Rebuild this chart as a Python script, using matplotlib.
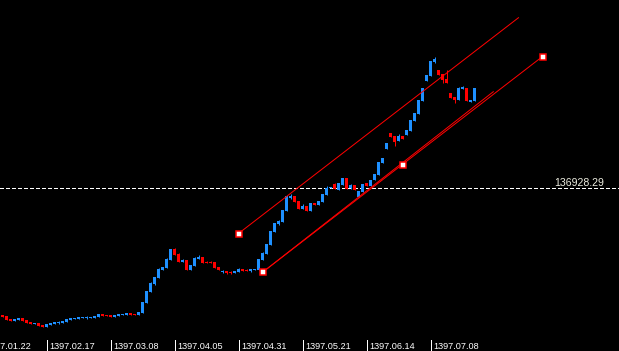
import matplotlib
matplotlib.use('Agg')
import matplotlib.pyplot as plt
from matplotlib.transforms import blended_transform_factory, offset_copy

# ---------------- data ----------------
opens = [98680, 98380, 97480, 96880, 97180, 97780, 97180, 96580, 95980, 96280,
         95680, 95080, 95680, 95980, 96280, 96280, 96580, 97180, 97480, 97480,
         97780, 97780, 97780, 97780, 98080, 98980, 98680, 98680, 98080, 98380,
         98680, 98680, 99280, 99070, 98680, 99280, 102370, 105670, 108070, 109870,
         112270, 112870, 115270, 118480, 116980, 114670, 115180, 112270, 113470, 115570,
         116080, 114670, 114670, 114580, 113080, 111580, 111790, 111670, 111370, 111670,
         112480, 112270, 111970, 112270, 112180, 115180, 116980, 119680, 123580, 126070,
         126580, 129880, 133870, 134380, 132880, 130480, 131380, 129880, 132280, 131680,
         132580, 134680, 136780, 137980, 136180, 137680, 139690, 136690, 137680, 134170,
         135670, 138190, 137380, 139180, 140680, 144280, 148480, 153280, 152380, 150880,
         152380, 152680, 153880, 156880, 158980, 162880, 168880, 170380, 174580, 172180,
         170980, 169480, 165280, 164080, 163180, 166480, 166780, 162580, 162880]
highs = [98680, 98380, 97480, 97480, 97780, 97780, 97180, 96580, 96280, 96280,
         95680, 95980, 96280, 96580, 97030, 96880, 97480, 97780, 97930, 98080,
         98080, 98530, 98230, 98530, 98980, 98980, 98680, 98680, 98680, 98980,
         99130, 99280, 99280, 99070, 99580, 102580, 105970, 108670, 110170, 112780,
         113080, 115780, 118480, 118780, 117280, 115480, 115180, 113680, 116080, 116680,
         116080, 114880, 114880, 114580, 113080, 112270, 111790, 111970, 111970, 112780,
         112480, 112480, 112480, 112480, 115480, 117670, 119980, 123880, 126370, 127180,
         130180, 134470, 134980, 134380, 132880, 132070, 131380, 132280, 132280, 132880,
         134980, 137380, 137080, 138280, 138370, 139690, 139690, 137980, 137680, 135880,
         137980, 138190, 139180, 140980, 144580, 145780, 150280, 153280, 152380, 152980,
         152380, 154180, 157180, 159280, 163180, 166780, 170680, 174880, 176080, 172180,
         170980, 172180, 165280, 164080, 167080, 167380, 166780, 163180, 166780]
lows = [98080, 97180, 96880, 96880, 97180, 96880, 96280, 95980, 95980, 95380,
        95080, 95080, 95680, 95980, 96130, 96280, 96580, 97180, 97480, 97480,
        97780, 97630, 97780, 97780, 98080, 98380, 98380, 98080, 98080, 98380,
        98680, 98680, 98680, 98680, 98680, 99280, 102370, 105670, 107770, 109870,
        112270, 112870, 115270, 116770, 114670, 114670, 112270, 112270, 113470, 115570,
        114370, 114370, 114370, 112870, 112270, 111370, 111070, 111070, 111370, 111670,
        111970, 111970, 111670, 112270, 112180, 115180, 116980, 119680, 123580, 125770,
        126580, 129880, 133480, 132580, 130480, 130480, 129880, 129880, 131680, 131680,
        132580, 134680, 136780, 136390, 136180, 137680, 136390, 136480, 136180, 134170,
        135670, 137470, 137380, 139180, 140680, 144280, 148480, 152080, 149380, 150880,
        151480, 152680, 153880, 156880, 158980, 162880, 168880, 170380, 174280, 170680,
        168280, 168280, 163780, 162280, 163180, 166480, 162880, 162580, 162880]
closes = [98080, 97180, 96880, 97480, 97780, 96880, 96280, 95980, 96280, 95380,
          95080, 95980, 96280, 96580, 96730, 96880, 97480, 97780, 97930, 98080,
          98080, 98230, 98230, 98530, 98980, 98380, 98380, 98080, 98680, 98980,
          99130, 99280, 98680, 98680, 99580, 102580, 105970, 108370, 110170, 112570,
          113080, 115480, 118480, 116770, 114670, 115180, 112270, 113680, 115780, 116080,
          114370, 114370, 114370, 112870, 112270, 111970, 111280, 111280, 111970, 112570,
          111970, 111970, 112480, 112480, 115480, 117280, 119980, 123880, 126370, 126880,
          130180, 134470, 134470, 132580, 130480, 131380, 129880, 132280, 131680, 132880,
          134980, 136780, 137080, 136390, 138370, 139690, 136390, 137680, 136180, 135880,
          137980, 137470, 139180, 140980, 144580, 145780, 150280, 152080, 150580, 152380,
          151480, 154180, 157180, 159280, 163180, 166780, 170680, 174880, 175480, 170680,
          169180, 168280, 163780, 163180, 166780, 167080, 162880, 163180, 166780]

date_tick_bars = [-5, 11, 27, 43, 59, 75, 91, 107]
date_tick_labels = ['1397.01.22', '1397.02.17', '1397.03.08', '1397.04.05',
                    '1397.04.31', '1397.05.21', '1397.06.14', '1397.07.08']

price_line = 136928.29
price_label = '136928.29'

# channel / trend objects: (bar, price) anchors
channel_lower = ([65, 135], [111490, 176230])
channel_upper = ([59, 129], [123130, 187870])
trend_line = ([65, 122.7], [111490, 165670])
anchor_bars = [59, 65, 100, 135]
anchor_prices = [123130, 111490, 143830, 176230]

# ---------------- styling ----------------
BLUE = '#1E90FF'
RED = '#FF0000'
W, H = 619, 351
PX = 72.0 / 100  # one pixel in points

fig = plt.figure(figsize=(W / 100, H / 100), dpi=100, facecolor='black')
ax = fig.add_axes([0, 0, 1, 1])
ax.set_facecolor('black')
ax.set_xlim(-0.625, 154.125)
ax.set_ylim(87880, 193180)
ax.set_axis_off()

n = len(opens)
xs = list(range(n))
cols = [BLUE if c >= o else RED for o, c in zip(opens, closes)]

# wicks
ax.vlines(xs, lows, highs, colors=cols, linewidth=PX, antialiased=True, zorder=2)
# bodies
bottoms = [min(o, c) for o, c in zip(opens, closes)]
heights = [max(abs(c - o), 300) for o, c in zip(opens, closes)]
ax.bar(xs, heights, bottom=bottoms, width=0.75, color=cols, linewidth=0,
       antialiased=True, zorder=3)

# current price dashed line
ax.axhline(price_line, color='white', linewidth=PX, dashes=(5 * PX, 3 * PX),
           antialiased=False, zorder=1)
fig.text(554 / W, (H - 186) / H, price_label, color='#EDEDE0', fontsize=7.6,
         family='Liberation Sans', ha='left', va='baseline')

# channel lines and trend line
for bx, py in (channel_lower, channel_upper):
    ax.plot(bx, py, color=RED, linewidth=PX, antialiased=True, zorder=4)
tb, tp = trend_line
ax.plot(tb, tp, color=RED, linewidth=PX, antialiased=True, zorder=4)
ax.plot(anchor_bars, anchor_prices, linestyle='none', marker='s', markersize=3.8,
        markerfacecolor='white', markeredgecolor=RED, markeredgewidth=1.1, zorder=5)

# date axis ticks and labels
trans = blended_transform_factory(ax.transData, ax.transAxes)
ax.vlines(date_tick_bars, 0, 11 / H, colors='white', linewidth=PX,
          transform=trans, antialiased=False, zorder=6)
ttrans = offset_copy(trans, fig=fig, x=3, y=0, units='dots')
for b, lab in zip(date_tick_bars, date_tick_labels):
    ax.text(b, 2 / H, lab, transform=ttrans, color='white', fontsize=6.6,
            family='Liberation Sans', ha='left', va='baseline', zorder=6,
            clip_on=False)

fig.savefig('out.png', dpi=100, facecolor='black')
